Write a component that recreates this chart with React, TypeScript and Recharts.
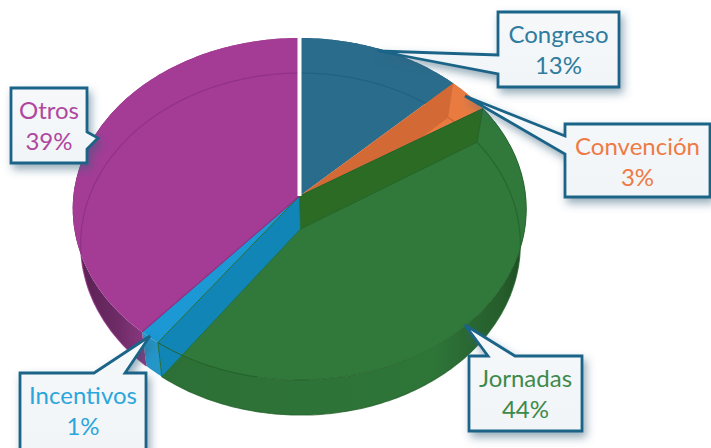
import React from 'react';
import { PieChart, Pie } from 'recharts';

const names = ['Congreso', 'Convención', 'Jornadas', 'Incentivos', 'Otros'];
const values = [12.7, 3.3, 44, 1.4, 38.6];

const faceColors = ['#2A6C8C', '#E97B40', '#30793A', '#1C98D4', '#A43C96'];
const lineColors = ['#1F5F80', '#C9602C', '#24632C', '#1378A8', '#8C2F80'];
const textColors = ['#2F7C9F', '#EE7B45', '#3E8A4C', '#2BA6DC', '#B0479F'];

// callout boxes: [left, top, right, bottom], pointer tip, pointer base on the box
const callouts = [
  { box: [498, 12, 619, 87], tip: [378, 51], base: [[498, 74], [498, 55]], side: 'left' },
  { box: [565, 124, 710, 197], tip: [465, 96], base: [[565, 154], [565, 136]], side: 'left' },
  { box: [469, 356, 582, 431], tip: [465, 325], base: [[488, 356], [515, 356]], side: 'top' },
  { box: [20, 373, 146, 452], tip: [150, 336], base: [[94, 373], [125, 373]], side: 'top' },
  { box: [11, 88, 87, 163], tip: [98, 138], base: [[87, 132], [87, 149]], side: 'right' },
];

const pieData = names.map((name, i) => ({ name, value: values[i], fill: faceColors[i] }));

const TOP = { xScale: 1.33, yScale: 1, k: 0.076, dx: 0, dy: 0 };
const BOTTOM = { xScale: 1.288, yScale: 0.998, k: 0.088, dx: 1, dy: 33 };

type Layer = typeof TOP;

function project(angle: number, layer: Layer, cx: number, cy: number, r: number) {
  const t = ((90 - angle) * Math.PI) / 180;
  const u = Math.sin(t);
  const v = Math.cos(t);
  const w = 1 + layer.k * v;
  return [cx + layer.dx + (r * layer.xScale * u) / w, cy + layer.dy - (r * layer.yScale * v) / w];
}

function arc(from: number, to: number, layer: Layer, cx: number, cy: number, r: number) {
  const n = Math.max(2, Math.ceil(Math.abs(to - from)));
  const pts: number[][] = [];
  for (let i = 0; i <= n; i++) {
    pts.push(project(from + ((to - from) * i) / n, layer, cx, cy, r));
  }
  return pts;
}

const toPath = (pts: number[][], close = true) =>
  'M' + pts.map((p) => p[0].toFixed(1) + ',' + p[1].toFixed(1)).join('L') + (close ? 'Z' : '');

function PieSlice(props: any) {
  const { startAngle, endAngle, cx, cy, outerRadius: r } = props;
  const name = props.name ?? props.payload?.name;
  const i = names.indexOf(name);
  const topArc = arc(startAngle, endAngle, TOP, cx, cy, r);
  const bottomArc = arc(startAngle, endAngle, BOTTOM, cx, cy, r);
  const apexTop = [cx, cy];
  const apexBottom = [cx + BOTTOM.dx, cy + BOTTOM.dy];
  const innerWall = (angle: number) => [
    apexTop,
    project(angle, TOP, cx, cy, r),
    project(angle, BOTTOM, cx, cy, r),
    apexBottom,
  ];

  return (
    <g>
      <path d={toPath([...topArc, ...[...bottomArc].reverse()])} fill={`url(#wall-${i})`} />
      <path d={toPath([apexTop, ...topArc])} fill={faceColors[i]} />
      {name === 'Convención' && (
        <path d={toPath(innerWall(startAngle))} fill="#B9572A" fillOpacity={0.45} />
      )}
      {name === 'Jornadas' && (
        <path
          d={toPath(innerWall(startAngle))}
          fill="#2C6B24"
          stroke="#27632B"
          strokeWidth={1}
        />
      )}
      {name === 'Incentivos' && (
        <g>
          <path
            d={toPath(innerWall(startAngle))}
            fill="#1186B6"
            stroke="#24703F"
            strokeWidth={1}
          />
          <path
            d={toPath(arc(startAngle, startAngle + 26, TOP, cx, cy, r), false)}
            fill="none"
            stroke="#24632C"
            strokeWidth={1}
          />
        </g>
      )}
      <path
        d={toPath(bottomArc, false)}
        fill="none"
        stroke={lineColors[i]}
        strokeWidth={1.2}
        strokeOpacity={name === 'Incentivos' ? 0 : 0.8}
      />
      {name === 'Jornadas' && (
        <path d={toPath(topArc, false)} fill="none" stroke={lineColors[i]} strokeWidth={1} strokeOpacity={0.85} />
      )}
      {name === 'Otros' && (
        <g>
          <path d={toPath([apexTop, ...topArc.slice(0, 1)], false)} fill="none" stroke={lineColors[i]} strokeWidth={1.2} />
          <path
            d={toPath([apexTop, project(endAngle, TOP, cx, cy, r * 1.02)], false)}
            fill="none"
            stroke="#FFFFFF"
            strokeWidth={4}
          />
        </g>
      )}
    </g>
  );
}

function Callout(props: any) {
  const i = props.index as number;
  const c = callouts[i];
  const [l, t, r, b] = c.box;
  let d = '';
  if (c.side === 'left') {
    d = `M${l},${t}H${r}V${b}H${l}V${c.base[0][1]}L${c.tip[0]},${c.tip[1]}L${l},${c.base[1][1]}Z`;
  } else if (c.side === 'top') {
    d = `M${l},${t}H${c.base[0][0]}L${c.tip[0]},${c.tip[1]}L${c.base[1][0]},${t}H${r}V${b}H${l}Z`;
  } else {
    d = `M${l},${t}H${r}V${c.base[0][1]}L${c.tip[0]},${c.tip[1]}L${r},${c.base[1][1]}V${b}H${l}Z`;
  }
  const x = (l + r) / 2;
  return (
    <g>
      <path
        d={d}
        fill="url(#calloutFill)"
        stroke="#1B6488"
        strokeWidth={2.8}
        strokeLinejoin="miter"
        filter="url(#calloutShadow)"
      />
      <text
        x={x}
        textAnchor="middle"
        fontFamily="Lato, sans-serif"
        fontSize={24}
        fill={textColors[i]}
      >
        <tspan x={x} y={t + 31}>{names[i]}</tspan>
        <tspan x={x} y={t + 62}>{Math.round(values[i])}%</tspan>
      </text>
    </g>
  );
}

export default function App() {
  return (
    <div style={{ position: 'absolute', left: 0, top: 0, width: 711, height: 448, overflow: 'hidden', background: '#fff' }}>
      <PieChart width={711} height={448} margin={{ top: 0, right: 0, bottom: 0, left: 0 }}>
        <defs>
          <linearGradient id="calloutFill" x1="0" y1="0" x2="0" y2="1">
            <stop offset="0" stopColor="#F6F8FA" />
            <stop offset="1" stopColor="#F1F5F7" />
          </linearGradient>
          <filter id="calloutShadow" x="-20%" y="-20%" width="150%" height="150%">
            <feDropShadow dx={3} dy={5} stdDeviation={4} floodColor="#2F5D77" floodOpacity={0.5} />
          </filter>
          <linearGradient id="wall-0" x1="0" y1="0" x2="1" y2="0">
            <stop offset="0" stopColor="#1F5F80" />
            <stop offset="1" stopColor="#1F5F80" />
          </linearGradient>
          <linearGradient id="wall-1" x1="0" y1="0" x2="1" y2="0">
            <stop offset="0" stopColor="#C9602C" />
            <stop offset="1" stopColor="#C9602C" />
          </linearGradient>
          <linearGradient id="wall-2" x1="0" y1="0" x2="1" y2="0">
            <stop offset="0" stopColor="#2D7037" />
            <stop offset="0.75" stopColor="#2E7538" />
            <stop offset="0.94" stopColor="#255C2B" />
            <stop offset="1" stopColor="#1D4A22" />
          </linearGradient>
          <linearGradient id="wall-3" x1="0" y1="0" x2="1" y2="0">
            <stop offset="0" stopColor="#2596C8" />
            <stop offset="1" stopColor="#2596C8" />
          </linearGradient>
          <linearGradient id="wall-4" x1="0" y1="0" x2="1" y2="0">
            <stop offset="0" stopColor="#571F50" />
            <stop offset="0.2" stopColor="#6E2B66" />
            <stop offset="0.36" stopColor="#963D8B" />
            <stop offset="1" stopColor="#963D8B" />
          </linearGradient>
        </defs>
        <Pie
          data={pieData}
          dataKey="value"
          nameKey="name"
          cx={299.5}
          cy={196}
          innerRadius={0}
          outerRadius={170}
          startAngle={90}
          endAngle={-270}
          stroke="none"
          isAnimationActive={false}
          shape={PieSlice}
          label={Callout}
          labelLine={false}
        />
      </PieChart>
    </div>
  );
}
